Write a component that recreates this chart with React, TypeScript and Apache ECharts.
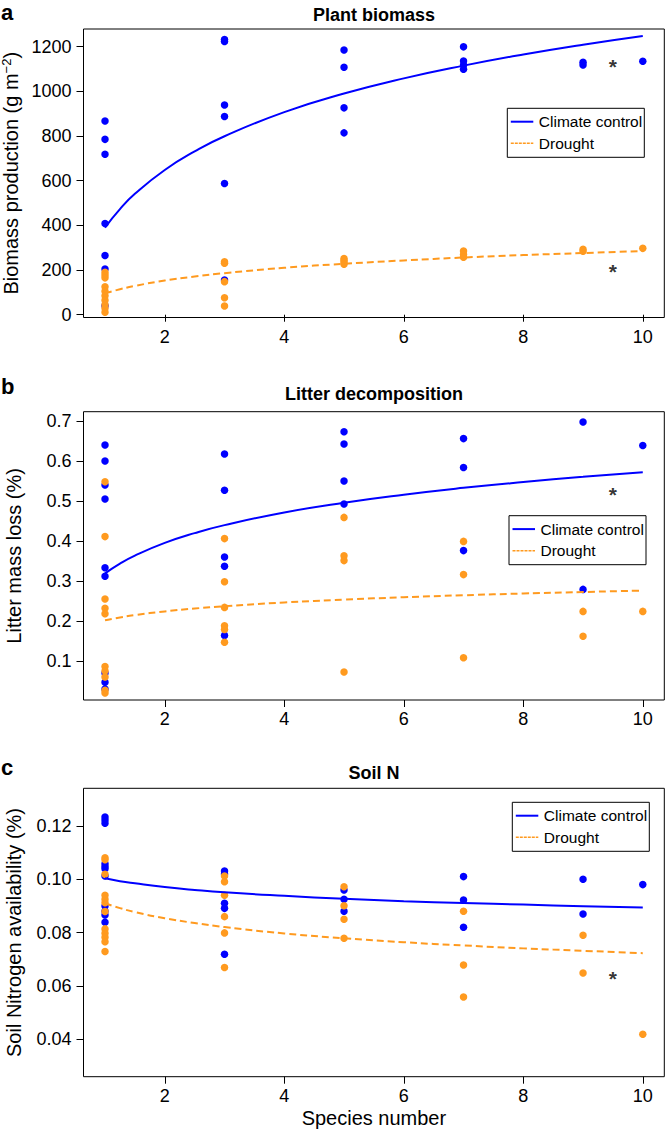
import React, { useEffect, useRef } from 'react';
import * as echarts from 'echarts';

const FONT = '"Liberation Sans", Arial, Helvetica, sans-serif';
const BLUE = '#0000FF';
const ORANGE = '#FF9A1F';

// x axis
const speciesTicks = [2, 4, 6, 8, 10];
const fitX = [1, 1.25, 1.5, 2, 2.5, 3, 4, 5, 6, 7, 8, 9, 10];

// a: Plant biomass (g m-2)
const biomassTicks = [0, 200, 400, 600, 800, 1000, 1200];
const biomassControl = [
  [1, 867], [1, 785], [1, 718], [1, 408], [1, 265], [1, 205], [1, 40],
  [3, 1232], [3, 1223], [3, 939], [3, 887], [3, 587], [3, 155],
  [5, 1185], [5, 1108], [5, 926], [5, 814],
  [7, 1199], [7, 1136], [7, 1118], [7, 1099],
  [9, 1130], [9, 1118],
  [10, 1135],
];
const biomassDrought = [
  [1, 190], [1, 178], [1, 165], [1, 125], [1, 105], [1, 85], [1, 65], [1, 45], [1, 29], [1, 11],
  [3, 237], [3, 230], [3, 148], [3, 76], [3, 39],
  [5, 252], [5, 244], [5, 236], [5, 226],
  [7, 285], [7, 270], [7, 257],
  [9, 293], [9, 284],
  [10, 297],
];
const biomassControlFit = [390, 473, 541, 648, 731, 799, 907, 990, 1058, 1115, 1165, 1209, 1248];
const biomassDroughtFit = [96, 114, 129, 153, 171, 186, 210, 228, 243, 256, 267, 276, 285];
const biomassStars = [[9.5, 1126], [9.5, 208]];

// b: Litter mass loss (%)
const litterTicks = [0.1, 0.2, 0.3, 0.4, 0.5, 0.6, 0.7];
const litterControl = [
  [1, 0.64], [1, 0.6], [1, 0.54], [1, 0.505], [1, 0.333], [1, 0.312], [1, 0.07], [1, 0.047], [1, 0.03],
  [3, 0.6175], [3, 0.527], [3, 0.36], [3, 0.337], [3, 0.164],
  [5, 0.673], [5, 0.6425], [5, 0.55], [5, 0.4925],
  [7, 0.656], [7, 0.584], [7, 0.376],
  [9, 0.6975], [9, 0.279],
  [10, 0.639],
];
const litterDrought = [
  [1, 0.548], [1, 0.411], [1, 0.255], [1, 0.232], [1, 0.218], [1, 0.086], [1, 0.075], [1, 0.06], [1, 0.027], [1, 0.02],
  [3, 0.406], [3, 0.298], [3, 0.234], [3, 0.188], [3, 0.179], [3, 0.147],
  [5, 0.459], [5, 0.363], [5, 0.351], [5, 0.0725],
  [7, 0.399], [7, 0.316], [7, 0.108],
  [9, 0.224], [9, 0.162],
  [10, 0.224],
];
const litterControlFit = [0.319, 0.3435, 0.3636, 0.3952, 0.4197, 0.4397, 0.4714, 0.4959, 0.5159, 0.5329, 0.5475, 0.5605, 0.572];
const litterDroughtFit = [0.2017, 0.2089, 0.2148, 0.224, 0.2312, 0.2371, 0.2463, 0.2535, 0.2594, 0.2644, 0.2687, 0.2725, 0.276];
const litterStars = [[9.5, 0.523]];

// c: Soil N availability (%)
const soilTicks = [0.04, 0.06, 0.08, 0.1, 0.12];
const soilControl = [
  [1, 0.1233], [1, 0.1222], [1, 0.121], [1, 0.1058], [1, 0.1048], [1, 0.1039], [1, 0.1012], [1, 0.09], [1, 0.088], [1, 0.0866], [1, 0.0839],
  [3, 0.1031], [3, 0.102], [3, 0.091], [3, 0.0891], [3, 0.0719],
  [5, 0.096], [5, 0.0925], [5, 0.088],
  [7, 0.101], [7, 0.0922], [7, 0.082],
  [9, 0.1], [9, 0.087],
  [10, 0.098],
];
const soilDrought = [
  [1, 0.1081], [1, 0.1073], [1, 0.1019], [1, 0.094], [1, 0.0925], [1, 0.0912], [1, 0.0879], [1, 0.0814], [1, 0.0798], [1, 0.0783], [1, 0.0766], [1, 0.0729],
  [3, 0.1012], [3, 0.0991], [3, 0.094], [3, 0.086], [3, 0.0799], [3, 0.0669],
  [5, 0.0972], [5, 0.0901], [5, 0.085], [5, 0.0779],
  [7, 0.088], [7, 0.0679], [7, 0.0559],
  [9, 0.079], [9, 0.0649],
  [10, 0.0419],
];
const soilControlFit = [0.1004, 0.0993, 0.0985, 0.0971, 0.096, 0.0951, 0.0938, 0.0927, 0.0918, 0.0911, 0.0905, 0.0899, 0.0894];
const soilDroughtFit = [0.091, 0.0892, 0.0877, 0.0854, 0.0836, 0.0821, 0.0797, 0.0779, 0.0764, 0.0752, 0.0741, 0.0732, 0.0723];
const soilStars = [[9.5, 0.0641]];

const legendNames = ['Climate control', 'Drought'];

const GRID_LEFT = 83.5;
const GRID_WIDTH = 580.8;

const panels = [
  {
    letter: 'a', title: 'Plant biomass', top: 29, height: 288.5, ymin: -12.5, ymax: 1279,
    ticks: biomassTicks, dec: 0, yName: 'Biomass production (g m{sup|\u22122})',
    ctrl: biomassControl, drt: biomassDrought, ctrlFit: biomassControlFit, drtFit: biomassDroughtFit,
    stars: biomassStars, legend: [507.3, 108.3], titleY: 15, letterY: 12, xName: '',
  },
  {
    letter: 'b', title: 'Litter decomposition', top: 411.7, height: 288.3, ymin: 0.0025, ymax: 0.7233,
    ticks: litterTicks, dec: 1, yName: 'Litter mass loss (%)',
    ctrl: litterControl, drt: litterDrought, ctrlFit: litterControlFit, drtFit: litterDroughtFit,
    stars: litterStars, legend: [509, 515.7], titleY: 394, letterY: 386, xName: '',
  },
  {
    letter: 'c', title: 'Soil N', top: 788.3, height: 288.4, ymin: 0.026, ymax: 0.1341,
    ticks: soilTicks, dec: 2, yName: 'Soil Nitrogen availability (%)',
    ctrl: soilControl, drt: soilDrought, ctrlFit: soilControlFit, drtFit: soilDroughtFit,
    stars: soilStars, legend: [512.3, 802.3], titleY: 773, letterY: 767, xName: 'Species number',
  },
];

function buildOption() {
  const grid: any[] = [];
  const xAxis: any[] = [];
  const yAxis: any[] = [];
  const series: any[] = [];
  const graphic: any[] = [];

  panels.forEach((p, i) => {
    grid.push({
      left: GRID_LEFT, top: p.top, width: GRID_WIDTH, height: p.height,
      containLabel: false, outerBoundsMode: 'none',
      show: true, borderColor: '#000', borderWidth: 1, backgroundColor: 'transparent',
    });
    xAxis.push({
      type: 'value', gridIndex: i, min: 0.64, max: 10.36,
      splitLine: { show: false },
      axisLine: { show: false },
      axisTick: { show: true, customValues: speciesTicks, length: 7, lineStyle: { color: '#000', width: 1 } },
      axisLabel: { customValues: speciesTicks, fontSize: 18, color: '#000', fontFamily: FONT, margin: 10 },
      name: p.xName, nameLocation: 'middle', nameGap: 31,
      nameTextStyle: { fontSize: 20, color: '#000', fontFamily: FONT },
    });
    yAxis.push({
      type: 'value', gridIndex: i, min: p.ymin, max: p.ymax,
      splitLine: { show: false },
      axisLine: { show: false },
      axisTick: { show: true, customValues: p.ticks, length: 7, lineStyle: { color: '#000', width: 1 } },
      axisLabel: {
        customValues: p.ticks, fontSize: 18, color: '#000', fontFamily: FONT, margin: 12,
        formatter: (v: number) => v.toFixed(p.dec),
      },
      name: p.yName, nameLocation: 'middle', nameGap: 60,
      nameTextStyle: {
        fontSize: 20, color: '#000', fontFamily: FONT,
        rich: { sup: { fontSize: 13, color: '#000', fontFamily: FONT, verticalAlign: 'top', padding: [0, 0, 9, 0] } },
      },
    });
    series.push({
      type: 'scatter', name: 'Climate control points', xAxisIndex: i, yAxisIndex: i,
      data: p.ctrl, symbol: 'circle', symbolSize: 7.5, itemStyle: { color: BLUE, opacity: 1 }, z: 2,
    });
    series.push({
      type: 'scatter', name: 'Drought points', xAxisIndex: i, yAxisIndex: i,
      data: p.drt, symbol: 'circle', symbolSize: 7.5, itemStyle: { color: ORANGE, opacity: 1 }, z: 3,
    });
    series.push({
      type: 'line', name: legendNames[0], xAxisIndex: i, yAxisIndex: i,
      data: fitX.map((x, k) => [x, p.ctrlFit[k]]), smooth: 0.5,
      symbol: 'none', lineStyle: { color: BLUE, width: 2 }, z: 4,
    });
    series.push({
      type: 'line', name: legendNames[1], xAxisIndex: i, yAxisIndex: i,
      data: fitX.map((x, k) => [x, p.drtFit[k]]), smooth: 0.5,
      symbol: 'none', lineStyle: { color: ORANGE, width: 2, type: [7, 4] }, z: 4,
    });
    series.push({
      type: 'scatter', name: 'significance', xAxisIndex: i, yAxisIndex: i,
      data: p.stars, symbol: 'circle', symbolSize: 1, itemStyle: { color: 'rgba(0,0,0,0)' },
      label: { show: true, formatter: '*', position: 'inside', fontSize: 21, fontWeight: 'bold', color: '#000', fontFamily: FONT, offset: [0, 3] },
      z: 5,
    });

    // panel letter & title
    graphic.push({
      type: 'text', x: 1, y: p.letterY,
      style: { text: p.letter, fontSize: 22, fontWeight: 'bold', fontFamily: FONT, fill: '#000', verticalAlign: 'middle', align: 'left' },
    });
    graphic.push({
      type: 'text', x: GRID_LEFT + GRID_WIDTH / 2, y: p.titleY,
      style: { text: p.title, fontSize: 18, fontWeight: 'bold', fontFamily: FONT, fill: '#000', verticalAlign: 'middle', align: 'center' },
    });

    // legend box
    const [lx, ly] = p.legend;
    graphic.push({
      type: 'rect', shape: { x: lx, y: ly, width: 137, height: 49 },
      style: { fill: '#fff', stroke: '#000', lineWidth: 1 }, z: 10,
    });
    [0, 1].forEach((r) => {
      const yy = ly + 13.4 + r * 21.6;
      graphic.push({
        type: 'line', shape: { x1: lx + 3.5, y1: yy, x2: lx + 26, y2: yy },
        style: { stroke: r === 0 ? BLUE : ORANGE, lineWidth: r === 0 ? 2 : 1.5, lineDash: r === 0 ? null : [3, 1] }, z: 11,
      });
      graphic.push({
        type: 'text', x: lx + 31.5, y: yy,
        style: { text: legendNames[r], fontSize: 15.5, fontFamily: FONT, fill: '#000', verticalAlign: 'middle', align: 'left' }, z: 11,
      });
    });
  });

  return {
    animation: false,
    backgroundColor: '#fff',
    grid, xAxis, yAxis, series, graphic,
  };
}

export default function App() {
  const ref = useRef<HTMLDivElement>(null);
  useEffect(() => {
    const chart = echarts.init(ref.current!, null, { renderer: 'svg' });
    chart.setOption(buildOption() as any);
    return () => chart.dispose();
  }, []);
  return <div ref={ref} style={{ position: 'absolute', left: 0, top: 0, width: 666, height: 1133 }} />;
}
